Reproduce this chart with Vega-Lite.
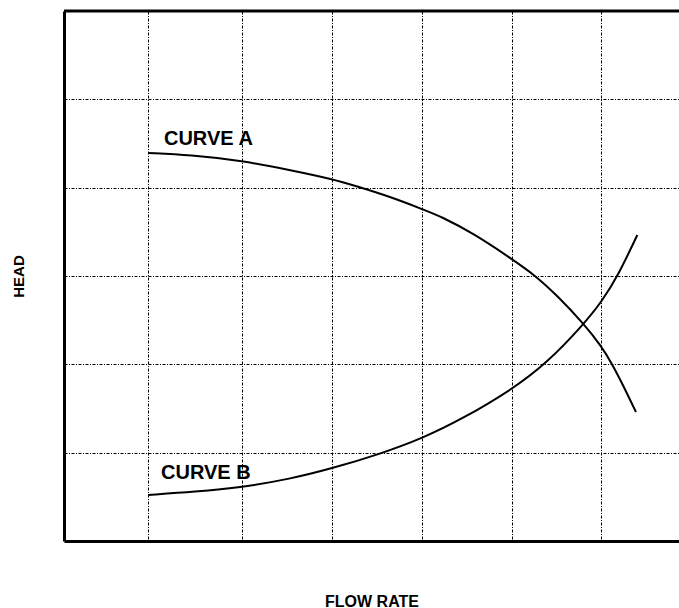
{
  "$schema": "https://vega.github.io/schema/vega-lite/v6.json",
  "width": 615,
  "height": 530,
  "autosize": {"type": "none"},
  "padding": {"left": 64, "top": 11, "right": 0, "bottom": 67},
  "background": "white",
  "config": {
    "view": {"stroke": null},
    "font": "Liberation Sans"
  },
  "datasets": {
    "curves": [
      {"curve": "A", "x": 0.939, "y": 4.393},
      {"curve": "A", "x": 1.408, "y": 4.37},
      {"curve": "A", "x": 1.992, "y": 4.305},
      {"curve": "A", "x": 2.525, "y": 4.2},
      {"curve": "A", "x": 2.998, "y": 4.098},
      {"curve": "A", "x": 3.27, "y": 4.016},
      {"curve": "A", "x": 3.642, "y": 3.898},
      {"curve": "A", "x": 4.008, "y": 3.755},
      {"curve": "A", "x": 4.201, "y": 3.679},
      {"curve": "A", "x": 4.573, "y": 3.484},
      {"curve": "A", "x": 5.009, "y": 3.189},
      {"curve": "A", "x": 5.263, "y": 3.008},
      {"curve": "A", "x": 5.505, "y": 2.785},
      {"curve": "A", "x": 5.81, "y": 2.457},
      {"curve": "A", "x": 6.008, "y": 2.2},
      {"curve": "A", "x": 6.12, "y": 2.012},
      {"curve": "A", "x": 6.249, "y": 1.76},
      {"curve": "A", "x": 6.391, "y": 1.46},
      {"curve": "B", "x": 0.939, "y": 0.521},
      {"curve": "B", "x": 1.464, "y": 0.557},
      {"curve": "B", "x": 1.989, "y": 0.608},
      {"curve": "B", "x": 2.525, "y": 0.702},
      {"curve": "B", "x": 2.994, "y": 0.821},
      {"curve": "B", "x": 3.531, "y": 0.985},
      {"curve": "B", "x": 4.0, "y": 1.16},
      {"curve": "B", "x": 4.444, "y": 1.378},
      {"curve": "B", "x": 5.009, "y": 1.717},
      {"curve": "B", "x": 5.393, "y": 2.012},
      {"curve": "B", "x": 5.81, "y": 2.457},
      {"curve": "B", "x": 6.008, "y": 2.709},
      {"curve": "B", "x": 6.193, "y": 3.008},
      {"curve": "B", "x": 6.406, "y": 3.464}
    ],
    "labels": [
      {"label": "CURVE A", "x": 1.117, "y": 4.483},
      {"label": "CURVE B", "x": 1.084, "y": 0.702}
    ],
    "frame": [
      {"y": 6}
    ]
  },
  "layer": [
    {
      "data": {"name": "curves"},
      "mark": {"type": "line", "color": "black", "strokeWidth": 2, "interpolate": "basis"},
      "encoding": {
        "x": {
          "field": "x",
          "type": "quantitative",
          "scale": {"domain": [0, 6.872], "nice": false, "zero": false},
          "axis": {
            "title": "FLOW RATE",
            "titleFont": "Liberation Sans",
            "titleFontSize": 16,
            "titleFontWeight": "bold",
            "titleColor": "black",
            "titlePadding": 52,
            "labels": false,
            "ticks": false,
            "domainColor": "black",
            "domainWidth": 3,
            "values": [0.939, 1.989, 2.994, 4.0, 5.006, 6.0],
            "grid": true,
            "gridColor": "black",
            "gridWidth": 1,
            "gridDash": [3, 1.5, 1, 1.5],
            "gridOpacity": 1
          }
        },
        "y": {
          "field": "y",
          "type": "quantitative",
          "scale": {"domain": [0, 6], "nice": false, "zero": false},
          "axis": {
            "title": "HEAD",
            "titleFont": "Liberation Sans",
            "titleFontSize": 15,
            "titleFontWeight": "bold",
            "titleColor": "black",
            "titlePadding": 38,
            "labels": false,
            "ticks": false,
            "domainColor": "black",
            "domainWidth": 3,
            "values": [1, 2, 3, 4, 5],
            "grid": true,
            "gridColor": "black",
            "gridWidth": 1,
            "gridDash": [3, 1.5, 1, 1.5],
            "gridOpacity": 1
          }
        },
        "detail": {"field": "curve", "type": "nominal"}
      }
    },
    {
      "data": {"name": "frame"},
      "mark": {"type": "rule", "color": "black", "strokeWidth": 3},
      "encoding": {
        "y": {"field": "y", "type": "quantitative"}
      }
    },
    {
      "data": {"name": "labels"},
      "mark": {"type": "text", "align": "left", "baseline": "alphabetic", "fontSize": 20, "fontWeight": "bold", "color": "black", "font": "Liberation Sans"},
      "encoding": {
        "x": {"field": "x", "type": "quantitative"},
        "y": {"field": "y", "type": "quantitative"},
        "text": {"field": "label", "type": "nominal"}
      }
    }
  ]
}
